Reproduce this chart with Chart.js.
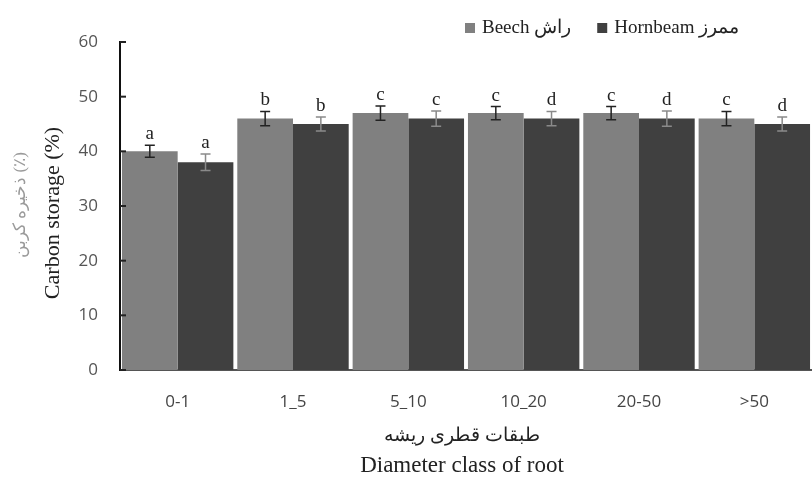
<!DOCTYPE html>
<html>
<head>
<meta charset="utf-8">
<script src="https://cdn.jsdelivr.net/npm/chart.js@4"></script>
<style>
  html, body { margin: 0; padding: 0; background: #fff; }
  #wrap { width: 812px; height: 479px; position: relative; }
</style>
</head>
<body>
<div id="wrap"><canvas id="myChart"></canvas></div>
<script>
const classes = ['0-1', '1_5', '5_10', '10_20', '20-50', '>50'];
const beech = [40, 46, 47, 47, 47, 46];
const hornbeam = [38, 45, 46, 46, 46, 45];
const beechErr = [1.1, 1.3, 1.3, 1.2, 1.2, 1.3];
const hornbeamErr = [1.5, 1.3, 1.4, 1.3, 1.4, 1.3];
const beechLetters = ['a', 'b', 'c', 'c', 'c', 'c'];
const hornbeamLetters = ['a', 'b', 'c', 'd', 'd', 'd'];
const yTicks = [0, 10, 20, 30, 40, 50, 60];

const serif = '"Liberation Serif", "DejaVu Serif", serif';
const sans = '"Open Sans", "Noto Sans", sans-serif';

// error bars, letters, inner tick marks, legend and axis titles
const extras = {
    id: 'extras',
    afterDatasetsDraw(chart) {
        const ctx = chart.ctx;
        const y = chart.scales.y;
        const errs = [beechErr, hornbeamErr];
        const letters = [beechLetters, hornbeamLetters];
        chart.data.datasets.forEach((ds, di) => {
            const meta = chart.getDatasetMeta(di);
            meta.data.forEach((bar, i) => {
                const x = bar.x;
                const top = y.getPixelForValue(ds.data[i] + errs[di][i]);
                const bot = y.getPixelForValue(ds.data[i] - errs[di][i]);
                ctx.save();
                ctx.strokeStyle = di === 0 ? '#222' : '#8a8a8a';
                ctx.lineWidth = 1.5;
                ctx.beginPath();
                ctx.moveTo(x, top); ctx.lineTo(x, bot);
                ctx.moveTo(x - 5, top); ctx.lineTo(x + 5, top);
                ctx.moveTo(x - 5, bot); ctx.lineTo(x + 5, bot);
                ctx.stroke();
                ctx.fillStyle = '#222';
                ctx.font = '19px ' + serif;
                ctx.textAlign = 'center';
                ctx.textBaseline = 'alphabetic';
                ctx.fillText(letters[di][i], x, top - 6);
                ctx.restore();
            });
        });

        // small tick marks inside the y axis
        const left = chart.chartArea.left;
        ctx.save();
        ctx.strokeStyle = '#222';
        ctx.lineWidth = 2;
        yTicks.forEach(v => {
            const py = y.getPixelForValue(v);
            ctx.beginPath();
            ctx.moveTo(left, py); ctx.lineTo(left + 6, py);
            ctx.stroke();
        });
        ctx.restore();
    },
    afterDraw(chart) {
        const ctx = chart.ctx;
        const area = chart.chartArea;
        // legend
        ctx.save();
        ctx.font = '19px ' + serif;
        ctx.textBaseline = 'middle';
        ctx.textAlign = 'left';
        let lx = 465;
        const ly = 28;
        chart.data.datasets.forEach(ds => {
            ctx.fillStyle = ds.backgroundColor;
            ctx.fillRect(lx, ly - 5, 10, 10);
            ctx.fillStyle = '#222';
            ctx.fillText(ds.label, lx + 17, ly);
            lx += 17 + ctx.measureText(ds.label).width + 26;
        });
        ctx.restore();

        // y axis titles
        const cy = (area.top + area.bottom) / 2 + 7;
        ctx.save();
        ctx.translate(53, cy);
        ctx.rotate(-Math.PI / 2);
        ctx.textAlign = 'center';
        ctx.textBaseline = 'middle';
        ctx.fillStyle = '#222';
        ctx.font = '22px ' + serif;
        ctx.fillText('Carbon storage (%)', 0, 0);
        ctx.restore();
        ctx.save();
        ctx.translate(21, cy - 8);
        ctx.rotate(-Math.PI / 2);
        ctx.textAlign = 'center';
        ctx.textBaseline = 'middle';
        ctx.fillStyle = '#9a9a9a';
        ctx.font = '17px ' + serif;
        ctx.fillText('ذخیره کربن (٪)', 0, 0);
        ctx.restore();

        // x axis titles
        const cx = (area.left + area.right) / 2 - 4;
        ctx.save();
        ctx.textAlign = 'center';
        ctx.textBaseline = 'middle';
        ctx.fillStyle = '#222';
        ctx.font = '19px ' + serif;
        ctx.fillText('طبقات قطری ریشه', cx, 436);
        ctx.font = '23px ' + serif;
        ctx.fillText('Diameter class of root', cx, 466);
        ctx.restore();
    }
};

const ctx = document.getElementById('myChart');

const aChart = new Chart(ctx, {
    type: 'bar',
    data: {
        labels: classes,
        datasets: [{
            label: 'Beech راش',
            data: beech,
            backgroundColor: '#808080',
            categoryPercentage: 0.966,
            barPercentage: 1.0
        },
        {
            label: 'Hornbeam ممرز',
            data: hornbeam,
            backgroundColor: '#404040',
            categoryPercentage: 0.966,
            barPercentage: 1.0
        }]
    },
    options: {
        responsive: true,
        maintainAspectRatio: false,
        animation: false,
        layout: { padding: { top: 42, left: 0, right: -10, bottom: 0 } },
        plugins: {
            legend: { display: false },
            tooltip: { enabled: false }
        },
        scales: {
            x: {
                grid: { display: false },
                border: { display: true, color: '#555', width: 2 },
                ticks: { color: '#444', font: { family: sans, size: 17 }, padding: 14 },
                afterFit(scale) { scale.height = 109; }
            },
            y: {
                min: 0,
                max: 60,
                afterBuildTicks(scale) { scale.ticks = yTicks.map(v => ({ value: v })); },
                grid: { display: false },
                border: { display: true, color: '#111', width: 2 },
                ticks: { color: '#555', font: { family: sans, size: 17 }, padding: 14 },
                afterFit(scale) { scale.width = 120; }
            }
        }
    },
    plugins: [extras]
});
</script>
</body>
</html>
